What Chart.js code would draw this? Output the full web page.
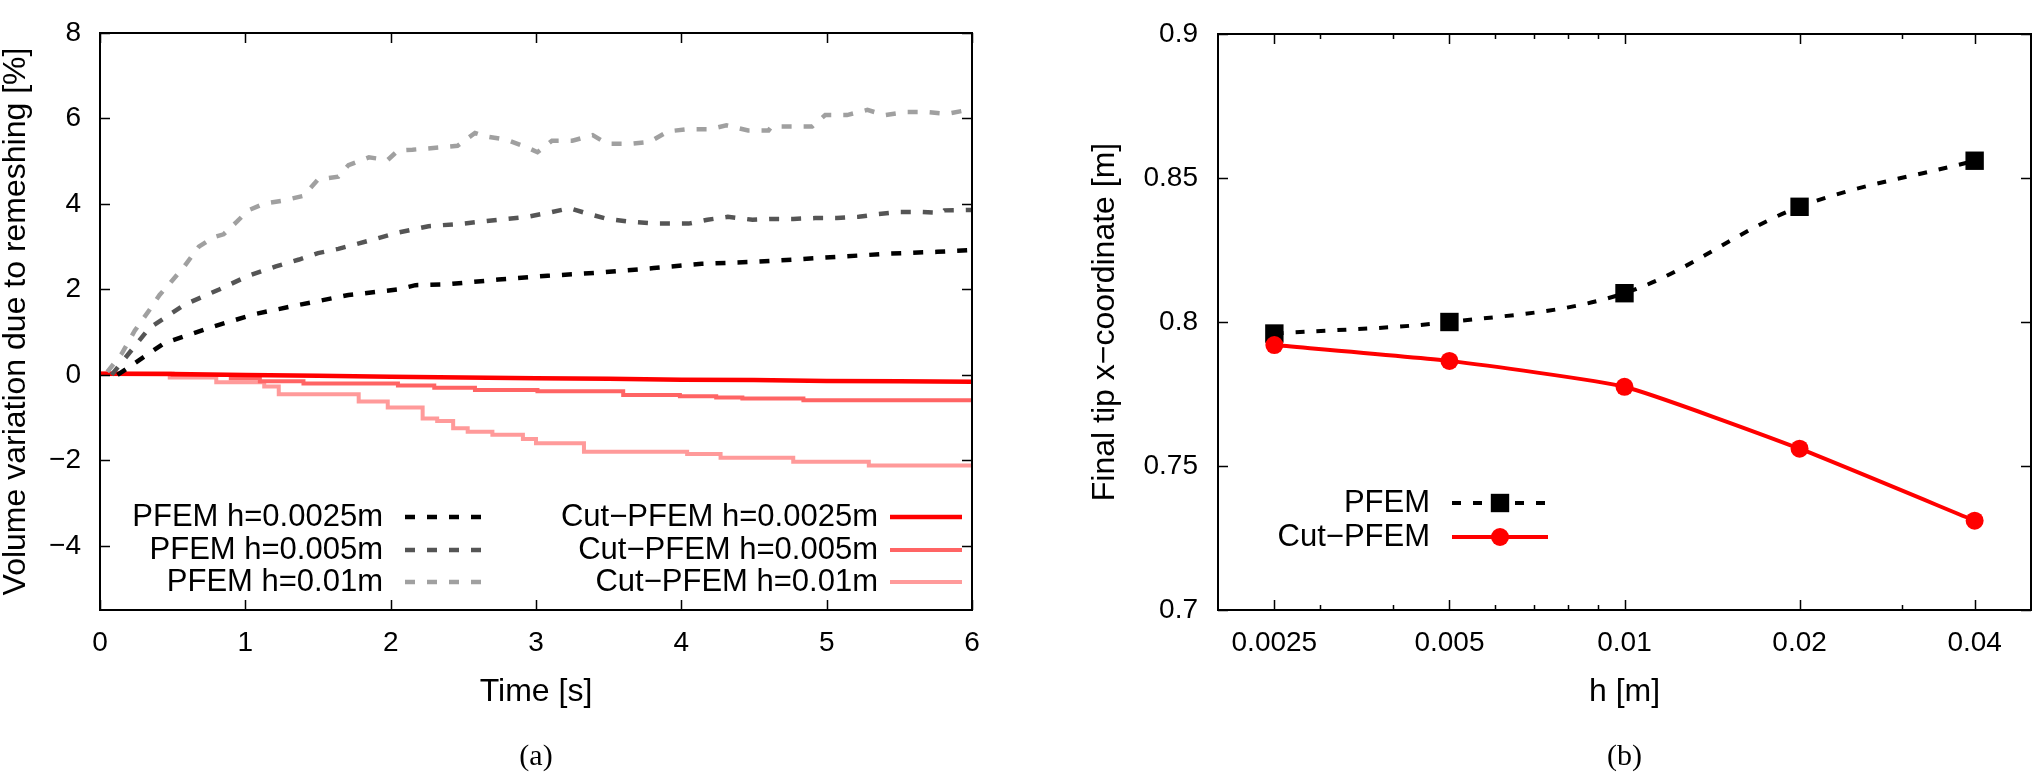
<!DOCTYPE html>
<html>
<head>
<meta charset="utf-8">
<script src="https://cdn.jsdelivr.net/npm/chart.js@4.4.1/dist/chart.umd.min.js"></script>
<style>
  html, body { margin: 0; padding: 0; background: #fff; overflow: hidden; }
  #wrap { position: relative; width: 2033px; height: 772px; }
  canvas { position: absolute; top: 0; }
  #chartA { left: 0; width: 1000px; height: 772px; }
  #chartB { left: 1000px; width: 1033px; height: 772px; }
</style>
</head>
<body>
<div id="wrap">
  <canvas id="chartA" width="1000" height="772"></canvas>
  <canvas id="chartB" width="1033" height="772"></canvas>
</div>
<script>
// ---- (a) volume variation vs time ----
const timeTicks = [0, 1, 2, 3, 4, 5, 6];
const volTicks  = [-4, -2, 0, 2, 4, 6, 8];

// PFEM h=0.0025m
const pfemT1 = [0.12, 0.44, 0.75, 1.06, 1.37, 1.71, 2.05, 2.17, 2.39, 2.74, 3.08, 3.42, 3.81, 4.14, 4.46, 4.78, 5.11, 5.44, 5.76, 6.0];
const pfemV1 = [0.0, 0.74, 1.10, 1.42, 1.64, 1.87, 2.00, 2.10, 2.12, 2.23, 2.32, 2.39, 2.50, 2.60, 2.64, 2.70, 2.77, 2.84, 2.88, 2.92];
// PFEM h=0.005m
const pfemT2 = [0.08, 0.34, 0.58, 0.82, 1.02, 1.21, 1.37, 1.50, 1.64, 1.85, 2.05, 2.26, 2.50, 2.74, 2.94, 3.11, 3.23, 3.35, 3.49, 3.66,
                3.83, 4.05, 4.18, 4.32, 4.49, 4.62, 4.77, 4.92, 5.07, 5.22, 5.35, 5.50, 5.66, 5.79, 5.81, 6.0];
const pfemV2 = [0.0, 1.10, 1.64, 2.00, 2.32, 2.54, 2.70, 2.85, 2.95, 3.14, 3.33, 3.48, 3.54, 3.63, 3.70, 3.81, 3.90, 3.78, 3.65, 3.58,
                3.54, 3.54, 3.63, 3.70, 3.63, 3.65, 3.65, 3.67, 3.67, 3.70, 3.76, 3.81, 3.81, 3.79, 3.85, 3.86];
// PFEM h=0.01m
const pfemT3 = [0.05, 0.15, 0.24, 0.34, 0.41, 0.49, 0.58, 0.68, 0.78, 0.85, 0.94, 1.02, 1.13, 1.26, 1.40, 1.50, 1.64, 1.71, 1.85, 1.98,
                2.05, 2.15, 2.33, 2.46, 2.58, 2.64, 2.80, 2.94, 3.01, 3.11, 3.25, 3.39, 3.49, 3.66, 3.78, 3.91, 4.05, 4.20, 4.31, 4.46,
                4.60, 4.62, 4.90, 4.99, 5.14, 5.28, 5.40, 5.54, 5.69, 5.83, 5.97, 6.0];
const pfemV3 = [0.07, 0.50, 1.04, 1.52, 1.87, 2.18, 2.54, 3.00, 3.22, 3.29, 3.58, 3.85, 4.01, 4.08, 4.19, 4.57, 4.64, 4.91, 5.09, 5.03,
                5.25, 5.27, 5.32, 5.36, 5.66, 5.59, 5.50, 5.32, 5.21, 5.48, 5.48, 5.61, 5.41, 5.41, 5.45, 5.70, 5.75, 5.75, 5.84, 5.72,
                5.72, 5.81, 5.81, 6.08, 6.08, 6.20, 6.08, 6.15, 6.15, 6.11, 6.20, 6.15];
// Cut-PFEM h=0.0025m
const cutT1 = [0, 0.5, 1, 1.5, 2, 2.5, 3, 3.5, 4, 4.5, 5, 5.5, 6];
const cutV1 = [0.03, 0.02, 0.0, -0.02, -0.04, -0.06, -0.08, -0.09, -0.11, -0.12, -0.14, -0.15, -0.16];
// Cut-PFEM h=0.005m (value holds from each time onward)
const cutT2 = [0, 0.5, 0.9, 1.1, 1.4, 2.05, 2.3, 2.58, 3.01, 3.6, 3.99, 4.24, 4.42, 4.84, 6.0];
const cutV2 = [0.03, 0.0, -0.08, -0.15, -0.20, -0.25, -0.30, -0.35, -0.38, -0.47, -0.50, -0.53, -0.55, -0.59, -0.60];
// Cut-PFEM h=0.01m
const cutT3 = [0, 0.48, 0.8, 1.13, 1.23, 1.78, 1.98, 2.22, 2.32, 2.43, 2.53, 2.7, 2.91, 3.0, 3.33, 4.04, 4.27, 4.77, 5.29, 6.0];
const cutV3 = [0.03, -0.06, -0.17, -0.27, -0.45, -0.62, -0.76, -1.02, -1.08, -1.25, -1.33, -1.40, -1.50, -1.60, -1.80, -1.85, -1.94, -2.03, -2.12, -2.12];

// ---- (b) final tip position vs mesh size ----
const meshSizes = [0.0025, 0.005, 0.01, 0.02, 0.04];
const pfemTip   = [0.796, 0.800, 0.810, 0.840, 0.856];
const cutTip    = [0.792, 0.7865, 0.7775, 0.756, 0.731];
const tipTicks  = [0.7, 0.75, 0.8, 0.85, 0.9];
const hMinor    = [0.003, 0.004, 0.006, 0.007, 0.008, 0.009, 0.03];

Chart.defaults.font.family = "'Liberation Sans', Arial, sans-serif";
Chart.defaults.color = '#000';

const pts = (xs, ys) => xs.map((x, i) => ({x: x, y: ys[i]}));
const fmt = v => String(v).replace('-', '\u2212');
const setTicks = list => scale => { scale.ticks = list.map(v => ({value: v})); };

// gnuplot-like frame with inward ticks on all four sides
const boxTicks = {
  id: 'boxTicks',
  afterDraw(chart, args, o) {
    const {ctx, chartArea: a} = chart;
    const xs = chart.scales.x, ys = chart.scales.y;
    ctx.save();
    ctx.strokeStyle = '#000';
    ctx.lineWidth = 1.5;
    ctx.beginPath();
    const xt = (v, len) => {
      const p = Math.round(xs.getPixelForValue(v)) + 0.5;
      ctx.moveTo(p, a.bottom); ctx.lineTo(p, a.bottom - len);
      ctx.moveTo(p, a.top); ctx.lineTo(p, a.top + len);
    };
    const yt = (v, len) => {
      const p = Math.round(ys.getPixelForValue(v)) + 0.5;
      ctx.moveTo(a.left, p); ctx.lineTo(a.left + len, p);
      ctx.moveTo(a.right, p); ctx.lineTo(a.right - len, p);
    };
    xs.ticks.forEach(t => xt(t.value, o.major));
    (o.minorX || []).forEach(v => xt(v, o.minor));
    ys.ticks.forEach(t => yt(t.value, o.major));
    ctx.stroke();
    ctx.lineWidth = 2;
    ctx.strokeRect(a.left, a.top, a.right - a.left, a.bottom - a.top);
    ctx.restore();
  }
};

// key drawn inside the plot, text right-aligned before each sample
const keyBox = {
  id: 'keyBox',
  afterDatasetsDraw(chart, args, o) {
    const ctx = chart.ctx;
    o.rows.forEach(r => {
      const ds = chart.data.datasets[r.index];
      ctx.save();
      ctx.font = o.font;
      ctx.fillStyle = '#000';
      ctx.textAlign = 'right';
      ctx.textBaseline = 'middle';
      ctx.fillText(ds.label, r.textX, r.y);
      ctx.strokeStyle = ds.borderColor;
      ctx.lineWidth = ds.borderWidth;
      ctx.setLineDash(ds.borderDash || []);
      ctx.beginPath();
      ctx.moveTo(r.x1, r.y);
      ctx.lineTo(r.x2, r.y);
      ctx.stroke();
      if (ds.pointRadius > 0) {
        ctx.setLineDash([]);
        ctx.fillStyle = ds.pointBackgroundColor;
        Chart.helpers.drawPoint(ctx, {pointStyle: ds.pointStyle, radius: ds.pointRadius, rotation: 0, borderWidth: 0},
                                (r.x1 + r.x2) / 2, r.y);
      }
      ctx.restore();
    });
  }
};

const tickFont = {size: 28, lineHeight: 1};
const axisTitleFont = {size: 32, lineHeight: 1};
const captionFont = {family: "'Liberation Serif', 'Times New Roman', serif", size: 30, weight: 'normal', lineHeight: 1};
const dash = [10, 12];

function line(label, data, color, extra) {
  return Object.assign({
    label: label, data: data, borderColor: color, backgroundColor: color,
    borderWidth: 4.5, pointRadius: 0, tension: 0, fill: false
  }, extra || {});
}

new Chart(document.getElementById('chartA'), {
  type: 'line',
  data: {
    datasets: [
      line('PFEM h=0.0025m', pts(pfemT1, pfemV1), '#000000', {borderDash: dash}),
      line('PFEM h=0.005m', pts(pfemT2, pfemV2), '#555555', {borderDash: dash}),
      line('PFEM h=0.01m', pts(pfemT3, pfemV3), '#a0a0a0', {borderDash: dash}),
      line('Cut\u2212PFEM h=0.0025m', pts(cutT1, cutV1), '#ff0000'),
      line('Cut\u2212PFEM h=0.005m', pts(cutT2, cutV2), '#ff6464', {stepped: true, borderWidth: 4}),
      line('Cut\u2212PFEM h=0.01m', pts(cutT3, cutV3), '#ff9a9a', {stepped: true, borderWidth: 4})
    ]
  },
  options: {
    responsive: false,
    animation: false,
    devicePixelRatio: 1,
    layout: {padding: {top: 11, right: 28, left: 0, bottom: 0}, autoPadding: false},
    scales: {
      x: {
        type: 'linear', min: 0, max: 6,
        afterFit: s => { s.height = 132; },
        afterBuildTicks: setTicks(timeTicks),
        grid: {display: false, drawTicks: false},
        border: {display: false},
        ticks: {padding: 19, font: tickFont, callback: fmt, autoSkip: false, maxRotation: 0},
        title: {display: true, text: 'Time [s]', font: axisTitleFont, padding: {top: 0, bottom: 34}}
      },
      y: {
        type: 'linear', min: -5.5, max: 8,
        afterFit: s => { s.width = 100; },
        afterBuildTicks: setTicks(volTicks),
        grid: {display: false, drawTicks: false},
        border: {display: false},
        ticks: {padding: 19, font: tickFont, callback: fmt, autoSkip: false},
        title: {display: true, text: 'Volume variation due to remeshing [%]', font: axisTitleFont, padding: {top: 0, bottom: 0}}
      }
    },
    plugins: {
      legend: {display: false},
      tooltip: {enabled: false},
      title: {display: true, text: '(a)', position: 'bottom', fullSize: false, font: captionFont, padding: 0},
      boxTicks: {major: 10, minor: 5},
      keyBox: {
        font: "31px 'Liberation Sans', Arial, sans-serif",
        rows: [
          {index: 0, textX: 383, x1: 405, x2: 485, y: 517},
          {index: 1, textX: 383, x1: 405, x2: 485, y: 550},
          {index: 2, textX: 383, x1: 405, x2: 485, y: 582},
          {index: 3, textX: 878, x1: 890, x2: 962, y: 517},
          {index: 4, textX: 878, x1: 890, x2: 962, y: 550},
          {index: 5, textX: 878, x1: 890, x2: 962, y: 582}
        ]
      }
    }
  },
  plugins: [boxTicks, keyBox]
});

new Chart(document.getElementById('chartB'), {
  type: 'line',
  data: {
    datasets: [
      line('PFEM', pts(meshSizes, pfemTip), '#000000', {
        borderDash: [9, 12], borderWidth: 4, tension: 0.35, order: 1,
        pointRadius: 13, pointHoverRadius: 13, pointStyle: 'rect', pointBackgroundColor: '#000000', pointBorderWidth: 0
      }),
      line('Cut\u2212PFEM', pts(meshSizes, cutTip), '#ff0000', {
        borderWidth: 4, tension: 0.15, order: 0,
        pointRadius: 9, pointHoverRadius: 9, pointStyle: 'circle', pointBackgroundColor: '#ff0000', pointBorderWidth: 0
      })
    ]
  },
  options: {
    responsive: false,
    animation: false,
    devicePixelRatio: 1,
    layout: {padding: {top: 11, right: 2, left: 0, bottom: 0}, autoPadding: false},
    scales: {
      x: {
        type: 'logarithmic', min: 0.002, max: 0.05,
        afterFit: s => { s.height = 132; },
        afterBuildTicks: setTicks(meshSizes),
        grid: {display: false, drawTicks: false},
        border: {display: false},
        ticks: {padding: 19, font: tickFont, callback: fmt, autoSkip: false, maxRotation: 0},
        title: {display: true, text: 'h [m]', font: axisTitleFont, padding: {top: 0, bottom: 34}}
      },
      y: {
        type: 'linear', min: 0.7, max: 0.9,
        afterFit: s => { s.width = 218; },
        afterBuildTicks: setTicks(tipTicks),
        grid: {display: false, drawTicks: false},
        border: {display: false},
        ticks: {padding: 20, font: tickFont, callback: fmt, autoSkip: false},
        title: {display: true, text: 'Final tip x\u2212coordinate [m]', font: axisTitleFont, padding: {top: 89, bottom: 0}}
      }
    },
    plugins: {
      legend: {display: false},
      tooltip: {enabled: false},
      title: {display: true, text: '(b)', position: 'bottom', fullSize: false, font: captionFont, padding: 0},
      boxTicks: {major: 10, minor: 5, minorX: hMinor},
      keyBox: {
        font: "31px 'Liberation Sans', Arial, sans-serif",
        rows: [
          {index: 0, textX: 430, x1: 452, x2: 548, y: 503},
          {index: 1, textX: 430, x1: 452, x2: 548, y: 537}
        ]
      }
    }
  },
  plugins: [boxTicks, keyBox]
});
</script>
</body>
</html>
